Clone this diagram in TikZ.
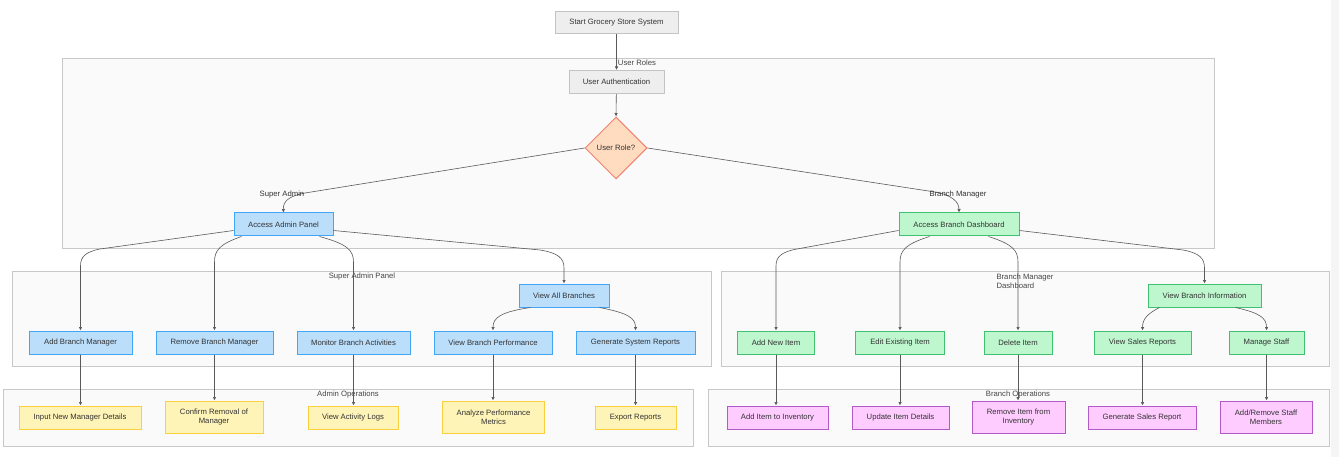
\documentclass[tikz,border=0pt]{standalone}
\usepackage{fontspec}
\setmainfont{Liberation Sans}
\usetikzlibrary{shapes.geometric,arrows.meta}
\definecolor{txt}{RGB}{51,51,51}
\definecolor{clfill}{RGB}{250,250,250}
\definecolor{cldraw}{RGB}{200,200,200}
\definecolor{grayfill}{RGB}{238,238,238}
\definecolor{graydraw}{RGB}{195,195,195}
\definecolor{rolefill}{RGB}{255,220,192}
\definecolor{roledraw}{RGB}{240,128,112}
\definecolor{bluefill}{RGB}{187,222,251}
\definecolor{bluedraw}{RGB}{66,165,245}
\definecolor{greenfill}{RGB}{190,247,206}
\definecolor{greendraw}{RGB}{64,192,112}
\definecolor{yellowfill}{RGB}{255,244,184}
\definecolor{yellowdraw}{RGB}{250,208,60}
\definecolor{pinkfill}{RGB}{255,204,255}
\definecolor{pinkdraw}{RGB}{180,90,200}
\definecolor{edgecol}{RGB}{90,90,90}
\definecolor{striped}{RGB}{245,245,245}
\tikzset{
  basefont/.style={font=\fontsize{7.7}{9}\selectfont, text=txt},
  box/.style={basefont, rectangle, draw, line width=1pt, inner sep=0pt, minimum height=23pt, align=center},
  graybox/.style={box, fill=grayfill, draw=graydraw},
  bluebox/.style={box, fill=bluefill, draw=bluedraw},
  greenbox/.style={box, fill=greenfill, draw=greendraw},
  yellowbox/.style={box, fill=yellowfill, draw=yellowdraw},
  pinkbox/.style={box, fill=pinkfill, draw=pinkdraw},
  rolebox/.style={basefont, diamond, draw=roledraw, fill=rolefill, line width=1pt, inner sep=0pt, minimum width=62pt, minimum height=62pt},
  cluster/.style={rectangle, draw=cldraw, fill=clfill, line width=0.9pt, anchor=north west, inner sep=0pt},
  cllabel/.style={basefont, text={rgb,255:red,70;green,70;blue,70}, inner sep=0pt},
  edgelabel/.style={basefont, inner sep=0pt},
  conn/.style={draw=edgecol, line width=0.6pt, -{Latex[length=3.5pt,width=3.5pt]}},
}
\begin{document}
\begin{tikzpicture}[x=1pt,y=-1pt]
\useasboundingbox (0,0) rectangle (1339,457);
\fill[white] (0,0) rectangle (1339,457);
\fill[striped] (1331,0) rectangle (1339,457);

% clusters
\node[cluster, minimum width=1152pt, minimum height=190pt] (userroles) at (62,58) {};
\node[cluster, minimum width=699pt, minimum height=95pt] (sapanel) at (12,271) {};
\node[cluster, minimum width=690pt, minimum height=57pt] (adminops) at (3,389) {};
\node[cluster, minimum width=608pt, minimum height=95pt] (bmdash) at (721,271) {};
\node[cluster, minimum width=621pt, minimum height=57pt] (branchops) at (708,389) {};

\node[cllabel] (lroles) at (637,63) {User Roles};
\node[cllabel] (lsap) at (362,277) {Super Admin Panel};
\node[cllabel, align=left] (lbmd) at (1025,281) {Branch Manager\\Dashboard};
\node[cllabel] (lops) at (348,395) {Admin Operations};
\node[cllabel] (lbops) at (1018,395) {Branch Operations};

% nodes
\node[graybox, minimum width=123pt, minimum height=22pt] (start) at (616.5,23) {Start Grocery Store System};
\node[graybox, minimum width=95pt] (auth) at (616.5,82) {User Authentication};
\node[rolebox] (role) at (616,148) {User Role?};

\node[bluebox, minimum width=99pt] (admin) at (283.5,224.5) {Access Admin Panel};
\node[greenbox, minimum width=120pt] (bdash) at (959,224.5) {Access Branch Dashboard};

\node[bluebox, minimum width=90pt] (vab) at (564,295.5) {View All Branches};
\node[bluebox, minimum width=103pt] (abm) at (80.5,342.5) {Add Branch Manager};
\node[bluebox, minimum width=117pt] (rbm) at (214.5,342.5) {Remove Branch Manager};
\node[bluebox, minimum width=113pt] (mba) at (353.5,342.5) {Monitor Branch Activities};
\node[bluebox, minimum width=118pt] (vbp) at (493,342.5) {View Branch Performance};
\node[bluebox, minimum width=119pt] (gsr) at (635.5,342.5) {Generate System Reports};

\node[yellowbox, minimum width=122pt] (inmd) at (80,417.5) {Input New Manager Details};
\node[yellowbox, minimum width=98pt, minimum height=32pt] (crm) at (214,417) {Confirm Removal of\\Manager};
\node[yellowbox, minimum width=90pt] (val) at (353,417.5) {View Activity Logs};
\node[yellowbox, minimum width=102pt, minimum height=32pt] (apm) at (493.5,417) {Analyze Performance\\Metrics};
\node[yellowbox, minimum width=81pt] (er) at (635.5,417.5) {Export Reports};

\node[greenbox, minimum width=113pt] (vbi) at (1204.5,295.5) {View Branch Information};
\node[greenbox, minimum width=77pt] (ani) at (776,342.5) {Add New Item};
\node[greenbox, minimum width=89pt] (eei) at (900,342.5) {Edit Existing Item};
\node[greenbox, minimum width=68pt] (di) at (1018,342.5) {Delete Item};
\node[greenbox, minimum width=97pt] (vsr) at (1142.5,342.5) {View Sales Reports};
\node[greenbox, minimum width=75pt] (ms) at (1266.5,342.5) {Manage Staff};

\node[pinkbox, minimum width=101pt] (aii) at (777.5,417.5) {Add Item to Inventory};
\node[pinkbox, minimum width=97pt] (uid) at (900.5,417.5) {Update Item Details};
\node[pinkbox, minimum width=93pt, minimum height=32pt] (rifi) at (1018.5,417) {Remove Item from\\Inventory};
\node[pinkbox, minimum width=108pt] (gsrep) at (1142,417.5) {Generate Sales Report};
\node[pinkbox, minimum width=92pt, minimum height=32pt] (arsm) at (1266,417) {Add/Remove Staff\\Members};

% edges
\draw[conn] (start) -- (auth);
\draw[conn] (auth) -- (role.north);
\draw[conn] (role.west) -- (305,193) .. controls (288,196) and (283,202) .. (admin.north);
\draw[conn] (role.east) -- (935,192) .. controls (952,195) and (959,202) .. (bdash.north);
\node[edgelabel] (lsa) at (282,195) {Super Admin};
\node[edgelabel] (lbm) at (958,195) {Branch Manager};

\draw[conn] ([yshift=-6pt]admin.west) -- (100,249) .. controls (85,252) and (80.5,257) .. (80.5,266) -- (abm.north);
\draw[conn] ([xshift=8pt]admin.south west) .. controls (220,244) and (214.5,250) .. (214.5,262) -- (rbm.north);
\draw[conn] ([xshift=-14pt]admin.south east) .. controls (347,244) and (353.5,250) .. (353.5,262) -- (mba.north);
\draw[conn] ([yshift=-6pt]admin.east) -- (540,250) .. controls (558,253) and (564,258) .. (564,268) -- (vab.north);
\draw[conn] ([xshift=12pt]vab.south west) .. controls (500,312) and (493,318) .. (vbp.north);
\draw[conn] ([xshift=-10pt]vab.south east) .. controls (628,313) and (635.5,318) .. (gsr.north);

\draw[conn] (abm.south) -- (abm.south |- inmd.north);
\draw[conn] (rbm.south) -- (rbm.south |- crm.north);
\draw[conn] (mba.south) -- (mba.south |- val.north);
\draw[conn] (vbp.south) -- (vbp.south |- apm.north);
\draw[conn] (gsr.south) -- (gsr.south |- er.north);

\draw[conn] ([yshift=-6pt]bdash.west) -- (797,249) .. controls (781,252) and (776,257) .. (776,266) -- (ani.north);
\draw[conn] ([xshift=31pt]bdash.south west) .. controls (906,244) and (900,250) .. (900,262) -- (eei.north);
\draw[conn] ([xshift=-31pt]bdash.south east) .. controls (1012,244) and (1018,250) .. (1018,262) -- (di.north);
\draw[conn] ([yshift=-6pt]bdash.east) -- (1183,250) .. controls (1199,253) and (1204.5,258) .. (1204.5,268) -- (vbi.north);
\draw[conn] ([xshift=12pt]vbi.south west) .. controls (1149,313) and (1142.5,318) .. (vsr.north);
\draw[conn] ([xshift=-26pt]vbi.south east) .. controls (1260,313) and (1266.5,318) .. (ms.north);

\draw[conn] (ani.south) -- (ani.south |- aii.north);
\draw[conn] (eei.south) -- (eei.south |- uid.north);
\draw[conn] (di.south) -- (di.south |- rifi.north);
\draw[conn] (vsr.south) -- (vsr.south |- gsrep.north);
\draw[conn] (ms.south) -- (ms.south |- arsm.north);
\end{tikzpicture}
\end{document}
